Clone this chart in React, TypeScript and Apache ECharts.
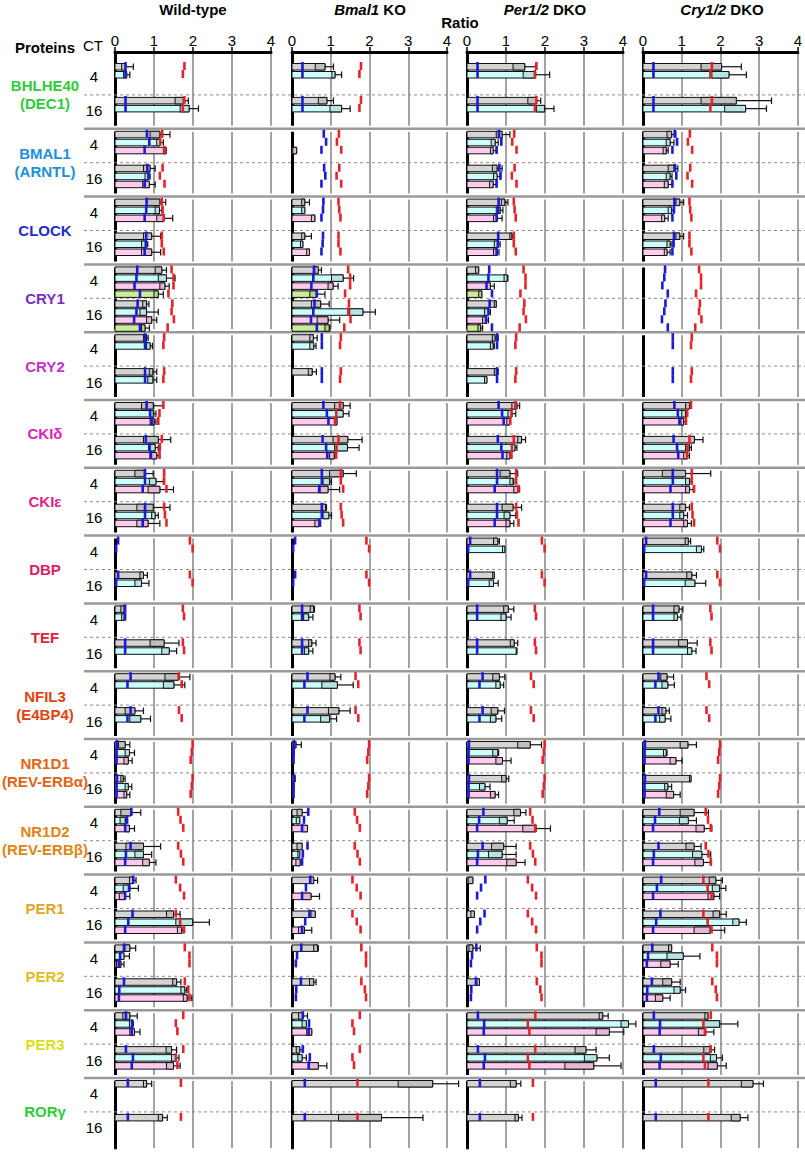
import React, { useEffect, useRef } from 'react';
import * as echarts from 'echarts';

// ---------- DATA ----------
const proteins = ['BHLHE40\n(DEC1)', 'BMAL1\n(ARNTL)', 'CLOCK', 'CRY1', 'CRY2', 'CKIδ', 'CKIε', 'DBP', 'TEF', 'NFIL3\n(E4BP4)', 'NR1D1\n(REV-ERBα)', 'NR1D2\n(REV-ERBβ)', 'PER1', 'PER2', 'PER3', 'RORγ'];
const proteinColors = ['#2fcc3a', '#2190dc', '#1f2ccc', '#7630c4', '#c233c8', '#de22b8', '#e0228c', '#e01a6a', '#e0223e', '#e04214', '#e06414', '#e08414', '#e0a624', '#e0c020', '#dede14', '#2ccc3c'];
const ctLabels = ['4', '16'];
const genotypeTitles = ['Wild-type', '{i|Bmal1} KO', '{i|Per1/2} DKO', '{i|Cry1/2} DKO'];
const tickValues = [0, 1, 2, 3, 4];
// slot colour index per protein: 0 grey, 1 cyan, 2 pink, 3 green
const proteinSlots = [[0, 1], [0, 1, 2], [0, 1, 2], [0, 1, 2, 3], [0, 1], [0, 1, 2], [0, 1, 2], [0, 1], [0, 1], [0, 1], [0, 1, 2], [0, 1, 2], [0, 1, 2], [0, 1, 2], [0, 1, 2], [0]];

const blueMarkers = [
  [[0.27, 0.27], [0.27, 0.27]],
  [[0.82, 0.88, 0.76], [0.83, 0.86, 0.76]],
  [[0.81, 0.8, 0.76], [0.8, 0.79, 0.76]],
  [[0.57, 0.55, 0.5, 0.64], [0.58, 0.55, 0.49, 0.64]],
  [[0.77, 0.77], [0.77, 0.77]],
  [[0.81, 0.9, 0.94], [0.79, 0.88, 0.91]],
  [[0.77, 0.77, 0.71], [0.77, 0.77, 0.71]],
  [[0.08, 0.03], [0.08, 0.03]],
  [[0.26, 0.26], [0.26, 0.26]],
  [[0.4, 0.32], [0.4, 0.32]],
  [[0.05, 0.04, 0.04], [0.05, 0.04, 0.04]],
  [[0.42, 0.31, 0.26], [0.4, 0.28, 0.26]],
  [[0.47, 0.36, 0.26], [0.45, 0.34, 0.26]],
  [[0.24, 0.13, 0.1], [0.23, 0.11, 0.1]],
  [[0.28, 0.44, 0.43], [0.28, 0.46, 0.43]],
  [[0.33], [0.33]],
];
const redMarkers = [
  [[1.78, 1.74], [1.78, 1.74]],
  [[1.21, 1.16, 1.27], [1.22, 1.15, 1.27]],
  [[1.2, 1.22, 1.25], [1.2, 1.2, 1.25]],
  [[1.45, 1.5, 1.5, 1.37], [1.47, 1.45, 1.51, 1.35]],
  [[1.26, 1.24], [1.26, 1.24]],
  [[1.24, 1.14, 1.11], [1.2, 1.15, 1.14]],
  [[1.26, 1.26, 1.32], [1.26, 1.28, 1.32]],
  [[1.92, 1.99], [1.92, 1.99]],
  [[1.74, 1.77], [1.74, 1.77]],
  [[1.64, 1.71], [1.64, 1.71]],
  [[1.99, 1.97, 1.94], [1.99, 1.97, 1.94]],
  [[1.62, 1.68, 1.75], [1.62, 1.69, 1.75]],
  [[1.56, 1.67, 1.77], [1.56, 1.67, 1.77]],
  [[1.79, 1.91, 1.91], [1.79, 1.88, 1.91]],
  [[1.75, 1.56, 1.6], [1.75, 1.56, 1.6]],
  [[1.69], [1.69]],
];

const N = null;
// each bar: [inner box start, bar end, whisker end]
const wildType = [
  [[[0.17, 0.27, 0.47], [0.22, 0.3, 0.38]], [[1.54, 1.75, 1.88], [1.67, 1.9, 2.14]]],
  [[[0.9, 1.15, 1.41], [1.07, 1.15, 1.24], [1.24, 1.31, 1.31]], [[0.73, 0.9, 1.03], [0.77, 0.85, 0.9], [0.71, 0.88, 1.03]]],
  [[[0.81, 1.15, 1.3], [1.03, 1.14, 1.2], [1.07, 1.24, 1.48]], [[0.73, 0.94, 1.17], [0.68, 0.8, 0.84], [0.68, 0.94, 1.17]]],
  [[[1.03, 1.2, 1.32], [1.11, 1.32, 1.54], [1.15, 1.28, 1.39], [1.0, 1.11, 1.24]], [[0.71, 0.81, 0.87], [0.64, 0.81, 1.11], [0.81, 0.94, 1.07], [0.68, 0.77, 0.88]]],
  [[[0.73, 0.81, 0.85], [0.81, 0.9, 0.96]], [[0.88, 0.97, 1.07], [0.84, 0.97, 1.07]]],
  [[[0.68, 0.98, 1.24], [0.9, 0.98, 1.05], [0.9, 1.0, 1.05]], [[0.73, 1.11, 1.43], [0.9, 1.03, 1.11], [0.94, 1.07, 1.15]]],
  [[[0.51, 0.75, 0.98], [0.88, 1.05, 1.24], [0.85, 1.15, 1.5]], [[0.56, 0.98, 1.41], [0.94, 1.03, 1.11], [0.56, 0.85, 1.15]]],
  [[N, N], [[0.64, 0.73, 0.83], [0.51, 0.68, 0.87]]],
  [[[0.15, 0.23, 0.26], [0.17, 0.23, 0.26]], [[0.9, 1.26, 1.64], [1.2, 1.39, 1.58]]],
  [[[1.28, 1.62, 1.92], [1.24, 1.51, 1.79]], [[0.26, 0.51, 0.73], [0.38, 0.66, 0.91]]],
  [[[0.09, 0.26, 0.38], [0.26, 0.37, 0.5], [0.23, 0.34, 0.44]], [[0.15, 0.21, 0.26], [0.26, 0.34, 0.43], [0.23, 0.3, 0.38]]],
  [[[0.15, 0.41, 0.66], [0.13, 0.26, 0.3], [0.26, 0.37, 0.5]], [[0.28, 0.73, 1.17], [0.51, 0.73, 0.94], [0.71, 0.88, 1.05]]],
  [[[0.37, 0.47, 0.54], [0.21, 0.38, 0.6], [0.11, 0.26, 0.38]], [[1.32, 1.5, 1.67], [1.56, 1.99, 2.42], [1.6, 1.71, 1.75]]],
  [[[0.21, 0.38, 0.53], [0.13, 0.23, 0.37], [0.04, 0.15, 0.23]], [[1.48, 1.58, 1.69], [1.69, 1.79, 1.84], [1.75, 1.85, 1.97]]],
  [[[0.2, 0.38, 0.57], [0.37, 0.44, 0.47], [0.38, 0.5, 0.64]], [[1.31, 1.45, 1.58], [1.45, 1.56, 1.64], [1.32, 1.5, 1.67]]],
  [[[0.73, 0.81, 0.94]], [[1.11, 1.22, 1.34]]],
];
const bmal1KO = [
  [[[0.6, 0.85, 1.07], [1.03, 1.11, 1.28]], [[0.68, 0.9, 1.07], [0.98, 1.28, 1.5]]],
  [[N, N, [0.02, 0.12, 0.12]], [N, N, N]],
  [[[0.25, 0.33, 0.45], [0.25, 0.33, 0.33], [0.5, 0.59, 0.59]], [[0.25, 0.33, 0.5], [0.22, 0.28, 0.28], [0.38, 0.45, 0.45]]],
  [[[0.55, 0.68, 0.76], [1.02, 1.32, 1.59], [0.93, 1.06, 1.19], [0.46, 0.63, 0.85]], [[0.5, 0.74, 0.96], [1.49, 1.83, 2.15], [0.65, 0.93, 1.23], [0.85, 0.96, 0.98]]],
  [[[0.46, 0.55, 0.65], [0.46, 0.56, 0.62]], [[0.42, 0.52, 0.63], N]],
  [[[1.1, 1.32, 1.5], [1.15, 1.32, 1.47], [1.1, 1.16, 1.16]], [[1.06, 1.44, 1.81], [1.1, 1.43, 1.73], [0.97, 1.09, 1.09]]],
  [[[0.97, 1.32, 1.66], [0.8, 0.97, 1.02], [0.68, 0.93, 1.23]], [[0.76, 0.87, 0.89], [0.8, 0.95, 1.02], [0.59, 0.7, 0.74]]],
  [[N, N], [N, N]],
  [[[0.47, 0.56, 0.58], [0.3, 0.43, 0.54]], [[0.43, 0.51, 0.62], [0.32, 0.43, 0.54]]],
  [[[0.98, 1.11, 1.26], [0.77, 1.17, 1.58]], [[0.94, 1.21, 1.5], [0.74, 0.97, 1.15]]],
  [[[0.03, 0.1, 0.24], [0.02, 0.06, 0.06], N], [[0.03, 0.08, 0.08], [0.02, 0.05, 0.05], N]],
  [[[0.13, 0.26, 0.4], [0.11, 0.2, 0.2], [0.26, 0.4, 0.4]], [[0.13, 0.26, 0.26], [0.15, 0.2, 0.2], [0.1, 0.21, 0.21]]],
  [[[0.47, 0.56, 0.66], N, [0.26, 0.49, 0.71]], [[0.49, 0.6, 0.6], N, [0.17, 0.32, 0.51]]],
  [[[0.56, 0.66, 0.68], N, N], [[0.45, 0.56, 0.62], N, N]],
  [[[0.17, 0.28, 0.4], [0.26, 0.37, 0.37], [0.38, 0.51, 0.51]], [[0.11, 0.2, 0.27], [0.15, 0.26, 0.37], [0.45, 0.68, 0.9]]],
  [[[2.74, 3.63, 4.3]], [[1.2, 2.31, 3.38]]],
];
const per12DKO = [
  [[[1.18, 1.48, 1.76], [1.44, 1.76, 2.12]], [[1.56, 1.78, 1.89], [1.78, 1.99, 2.23]]],
  [[[0.75, 0.9, 1.1], [0.62, 0.72, 0.8], [0.6, 0.67, 0.75]], [[0.65, 0.77, 0.9], [0.68, 0.77, 0.85], [0.58, 0.67, 0.75]]],
  [[[0.88, 0.97, 1.05], [0.75, 0.85, 0.92], [0.68, 0.77, 0.9]], [[1.1, 1.15, 1.18], [0.7, 0.8, 0.85], [0.68, 0.77, 0.82]]],
  [[[0.22, 0.3, 0.3], [0.95, 1.03, 1.05], [0.5, 0.6, 0.7], [0.3, 0.38, 0.38]], [[0.7, 0.75, 0.75], [0.45, 0.55, 0.6], [0.4, 0.5, 0.55], [0.28, 0.35, 0.4]]],
  [[[0.65, 0.72, 0.8], [0.6, 0.67, 0.7]], [[0.7, 0.77, 0.8], [0.45, 0.51, 0.51]]],
  [[[1.15, 1.28, 1.35], [1.05, 1.15, 1.25], [1.02, 1.1, 1.1]], [[1.3, 1.4, 1.5], [1.15, 1.23, 1.28], [1.02, 1.1, 1.14]]],
  [[[0.85, 1.1, 1.3], [1.1, 1.18, 1.2], [1.2, 1.3, 1.35]], [[0.9, 1.18, 1.4], [0.95, 1.1, 1.25], [1.0, 1.1, 1.2]]],
  [[[0.68, 0.79, 0.83], [0.91, 0.97, 0.97]], [[0.66, 0.7, 0.7], [0.57, 0.68, 0.8]]],
  [[[0.94, 1.06, 1.2], [0.87, 1.0, 1.13]], [[1.11, 1.21, 1.3], [1.26, 1.28, 1.28]]],
  [[[0.66, 0.83, 0.97], [0.74, 0.85, 0.94]], [[0.62, 0.79, 0.96], [0.6, 0.74, 0.89]]],
  [[[1.3, 1.62, 1.91], [0.66, 0.79, 0.81], [0.74, 0.91, 1.13]], [[0.89, 1.0, 1.07], [0.32, 0.46, 0.59], [0.6, 0.72, 0.81]]],
  [[[1.2, 1.37, 1.51], [0.83, 1.03, 1.21], [1.43, 1.77, 2.14]], [[0.63, 0.94, 1.26], [0.55, 0.9, 1.26], [1.02, 1.26, 1.49]]],
  [[[0.03, 0.15, 0.15], N, N], [[0.1, 0.19, 0.19], N, N]],
  [[[0.05, 0.15, 0.34], N, N], [[0.25, 0.32, 0.32], N, N]],
  [[[3.39, 3.48, 3.62], [3.95, 4.14, 4.33], [3.31, 3.65, 4.02]], [[2.77, 3.05, 3.31], [3.01, 3.33, 3.65], [2.51, 3.25, 3.95]]],
  [[[1.11, 1.26, 1.38]], [[1.23, 1.32, 1.41]]],
];
const cry12DKO = [
  [[[1.5, 2.03, 2.54], [1.78, 2.22, 2.67]], [[1.5, 2.41, 3.32], [2.11, 2.65, 3.19]]],
  [[[0.62, 0.74, 0.85], [0.6, 0.7, 0.8], [0.52, 0.6, 0.65]], [[0.65, 0.8, 0.9], [0.6, 0.7, 0.75], [0.55, 0.65, 0.75]]],
  [[[0.85, 0.95, 1.05], [0.65, 0.74, 0.8], [0.48, 0.56, 0.65]], [[0.85, 0.95, 1.05], [0.62, 0.7, 0.75], [0.55, 0.62, 0.7]]],
  [[N, N, N, N], [N, N, N, N]],
  [[N, N], [N, N]],
  [[[1.1, 1.2, 1.25], [1.0, 1.1, 1.15], [0.98, 1.05, 1.1]], [[1.2, 1.33, 1.55], [1.1, 1.2, 1.25], [1.05, 1.15, 1.2]]],
  [[[0.5, 1.1, 1.75], [1.1, 1.2, 1.25], [1.1, 1.2, 1.3]], [[0.95, 1.1, 1.2], [0.95, 1.05, 1.15], [1.05, 1.15, 1.25]]],
  [[[1.09, 1.17, 1.23], [1.38, 1.51, 1.57]], [[1.13, 1.26, 1.38], [1.09, 1.34, 1.62]]],
  [[[0.8, 0.93, 1.03], [0.8, 0.89, 0.98]], [[0.92, 1.15, 1.4], [1.15, 1.26, 1.37]]],
  [[[0.46, 0.62, 0.79], [0.49, 0.64, 0.81]], [[0.49, 0.59, 0.68], [0.43, 0.57, 0.72]]],
  [[[0.96, 1.16, 1.38], [0.53, 0.6, 0.62], [0.7, 0.85, 1.01]], [[1.2, 1.24, 1.24], [0.56, 0.64, 0.74], [0.6, 0.79, 0.96]]],
  [[[0.96, 1.32, 1.69], [0.94, 1.17, 1.38], [1.37, 1.58, 1.78]], [[1.11, 1.32, 1.5], [1.28, 1.52, 1.75], [1.34, 1.56, 1.77]]],
  [[[1.71, 1.88, 2.05], [1.79, 1.98, 2.14], [1.68, 1.83, 1.98]], [[1.81, 1.98, 2.15], [2.32, 2.48, 2.67], [1.32, 1.73, 2.11]]],
  [[[0.66, 0.74, 0.74], [0.62, 1.04, 1.47], [0.46, 0.7, 0.91]], [[0.51, 0.74, 0.96], [0.8, 0.96, 1.1], [0.32, 0.51, 0.7]]],
  [[[1.6, 1.68, 1.68], [1.56, 1.98, 2.45], [1.43, 1.62, 1.83]], [[1.57, 1.73, 1.85], [1.74, 1.9, 2.05], [1.68, 1.92, 2.15]]],
  [[[2.54, 2.84, 3.11]], [[2.28, 2.51, 2.71]]],
];
const genotypes = [wildType, bmal1KO, per12DKO, cry12DKO];

// ---------- STYLE / LAYOUT ----------
const FONT = '"Liberation Sans", Arial, Helvetica, sans-serif';
const fills = ['#d4d4d4', '#ccffff', '#ffccf0', '#cdeb9a'];
const boxFills = ['#c0c0c0', '#b4e4e4', '#e6b8d8', '#b6d68a'];
const BLUE = '#1a1ad8';
const RED = '#e4242a';
const GRID_TOP = 52;
const GRID_H = 1096;
const YMAX = 32.33;
const HALF_PX = GRID_H / YMAX;
const OFF = 9 / HALF_PX;
const SLOT = 8 / HALF_PX;
const SLOT_PAD = 2.5 / HALF_PX;
const BAR_H = 6.5 / HALF_PX;
const gridLefts = [115, 292, 467, 643];
const gridWidths = [156, 155, 156, 155];
const titleCenters = [193, 370, 545, 722];

function buildBarData(geno: any[]) {
  const out: number[][] = [];
  geno.forEach((pd, p) => {
    [0, 1].forEach((ct) => {
      proteinSlots[p].forEach((ci, s) => {
        const b = pd[ct][s];
        out.push([p, ct, s, b ? b[0] : -1, b ? b[1] : -1, b ? b[2] : -1, blueMarkers[p][ct][s], redMarkers[p][ct][s], ci]);
      });
    });
  });
  return out;
}

const renderBars = (params: any, api: any) => {
  const p = api.value(0), ct = api.value(1), s = api.value(2);
  const inner = api.value(3), end = api.value(4), wh = api.value(5);
  const blue = api.value(6), red = api.value(7), ci = api.value(8);
  const slotTop = OFF + 2 * p + ct + s * SLOT;
  const yT = api.coord([0, slotTop + SLOT_PAD])[1];
  const yB = api.coord([0, slotTop + SLOT_PAD + BAR_H])[1];
  const mT = api.coord([0, slotTop + SLOT_PAD * 0.4])[1];
  const mB = api.coord([0, slotTop + SLOT_PAD * 0.4 + SLOT])[1];
  const yM = (yT + yB) / 2;
  const X = (v: number) => api.coord([v, slotTop])[0];
  const x0 = X(0);
  const children: any[] = [];
  if (end >= 0) {
    children.push({ type: 'rect', shape: { x: x0, y: yT, width: X(end) - x0, height: yB - yT }, style: { fill: fills[ci], stroke: '#111', lineWidth: 1 } });
    if (inner >= 0 && inner < end) {
      children.push({ type: 'rect', shape: { x: X(inner), y: yT, width: X(end) - X(inner), height: yB - yT }, style: { fill: boxFills[ci], stroke: '#111', lineWidth: 1 } });
    }
    if (wh > end) {
      children.push({ type: 'line', shape: { x1: X(end), y1: yM, x2: X(wh), y2: yM }, style: { stroke: '#111', lineWidth: 1.2 } });
      children.push({ type: 'line', shape: { x1: X(wh), y1: yT, x2: X(wh), y2: yB }, style: { stroke: '#111', lineWidth: 1.2 } });
    }
  }
  children.push({ type: 'line', shape: { x1: X(blue), y1: mT, x2: X(blue), y2: mB }, style: { stroke: BLUE, lineWidth: 2.6 } });
  children.push({ type: 'line', shape: { x1: X(red), y1: mT, x2: X(red), y2: mB }, style: { stroke: RED, lineWidth: 2.6 } });
  return { type: 'group', children };
};

const renderSeparators = (params: any, api: any) => {
  const y = api.value(0), kind = api.value(1);
  const a = api.coord([0, y]);
  const b = api.coord([1, y]);
  if (kind === 0) {
    return {
      type: 'group', children: [
        { type: 'rect', shape: { x: a[0], y: a[1] - 3, width: b[0] - a[0], height: 6 }, style: { fill: '#fff' } },
        { type: 'line', shape: { x1: a[0], y1: a[1], x2: b[0], y2: b[1] }, style: { stroke: '#9a9a9a', lineWidth: 2.5 } },
      ],
    };
  }
  return { type: 'line', shape: { x1: a[0], y1: a[1], x2: b[0], y2: b[1] }, style: { stroke: '#8a8a8a', lineWidth: 1, lineDash: [3, 3] } };
};

const renderLabels = (params: any, api: any) => {
  const p = api.value(0);
  const yc = api.coord([0, OFF + 2 * p + 1])[1];
  const y4 = api.coord([0, OFF + 2 * p + 0.5])[1] - 1;
  const y16 = api.coord([0, OFF + 2 * p + 1.5])[1] - 1;
  const xName = api.coord([45, 0])[0];
  const xCt = api.coord([94, 0])[0];
  return {
    type: 'group', children: [
      { type: 'text', x: xName, y: yc, style: { text: proteins[p], fill: proteinColors[p], font: `bold 15px ${FONT}`, align: 'center', verticalAlign: 'middle', lineHeight: 18 } },
      { type: 'text', x: xCt, y: y4, style: { text: ctLabels[0], fill: '#000', font: `15px ${FONT}`, align: 'center', verticalAlign: 'middle' } },
      { type: 'text', x: xCt, y: y16, style: { text: ctLabels[1], fill: '#000', font: `15px ${FONT}`, align: 'center', verticalAlign: 'middle' } },
    ],
  };
};

function buildOption() {
  const grids: any[] = [];
  const xAxes: any[] = [];
  const yAxes: any[] = [];
  const series: any[] = [];
  genotypes.forEach((geno, g) => {
    grids.push({ left: gridLefts[g], width: gridWidths[g], top: GRID_TOP, height: GRID_H });
    xAxes.push({
      type: 'value', gridIndex: g, min: 0, max: 4, interval: 1, position: 'top',
      axisLine: { show: true, lineStyle: { color: '#000', width: 3 } },
      axisTick: { show: true, inside: false, length: 5, lineStyle: { color: '#000', width: 1.5 } },
      axisLabel: { show: true, fontSize: 15, color: '#000', margin: 4, fontFamily: FONT, formatter: (v: number) => (tickValues.includes(v) ? String(v) : '') },
      splitLine: { show: true, lineStyle: { color: '#a3a3a3', width: 2 } },
    });
    yAxes.push({
      type: 'value', gridIndex: g, min: 0, max: YMAX, inverse: true,
      axisLine: { show: true, onZero: false, lineStyle: { color: '#000', width: 3 } },
      axisTick: { show: false }, axisLabel: { show: false }, splitLine: { show: false },
    });
    series.push({
      type: 'custom', xAxisIndex: g, yAxisIndex: g, renderItem: renderBars, data: buildBarData(geno), z: 5, clip: false,
      encode: { x: 4, y: 0 },
    });
  });
  // background grid for separators
  grids.push({ left: 84, width: 721, top: GRID_TOP, height: GRID_H });
  xAxes.push({ type: 'value', gridIndex: 4, min: 0, max: 1, show: false });
  yAxes.push({ type: 'value', gridIndex: 4, min: 0, max: YMAX, inverse: true, show: false });
  const sepData: number[][] = [];
  proteins.forEach((_, p) => {
    if (p > 0) sepData.push([OFF + 2 * p, 0]);
    sepData.push([OFF + 2 * p + 1, 1]);
  });
  series.push({ type: 'custom', xAxisIndex: 4, yAxisIndex: 4, renderItem: renderSeparators, data: sepData, z: 3, clip: false, encode: { x: 1, y: 0 } });
  // label grid
  grids.push({ left: 0, width: 110, top: GRID_TOP, height: GRID_H });
  xAxes.push({ type: 'value', gridIndex: 5, min: 0, max: 110, show: false });
  yAxes.push({ type: 'value', gridIndex: 5, min: 0, max: YMAX, inverse: true, show: false });
  series.push({ type: 'custom', xAxisIndex: 5, yAxisIndex: 5, renderItem: renderLabels, data: proteins.map((_, p) => [p, 0]), z: 4, clip: false, encode: { x: 1, y: 0 } });

  const richI = { i: { fontStyle: 'italic', fontWeight: 'bold', fontSize: 15, fontFamily: FONT, color: '#000' } };
  const titles: any[] = genotypeTitles.map((t, g) => ({
    text: t, left: titleCenters[g], top: 2, textAlign: 'center', padding: 0,
    textStyle: { fontSize: 15, fontWeight: 'bold', fontFamily: FONT, color: '#000', rich: richI },
  }));
  titles.push({ text: 'Ratio', left: 460, top: 15, textAlign: 'center', padding: 0, textStyle: { fontSize: 15, fontWeight: 'bold', fontFamily: FONT, color: '#000' } });
  titles.push({ text: 'Proteins', left: 45, top: 40, textAlign: 'center', padding: 0, textStyle: { fontSize: 15, fontWeight: 'bold', fontFamily: FONT, color: '#000' } });
  titles.push({ text: 'CT', left: 93, top: 38, textAlign: 'center', padding: 0, textStyle: { fontSize: 15, fontWeight: 'normal', fontFamily: FONT, color: '#000' } });

  return {
    animation: false,
    backgroundColor: '#fff',
    textStyle: { fontFamily: FONT },
    title: titles,
    grid: grids,
    xAxis: xAxes,
    yAxis: yAxes,
    series,
  };
}

export default function App() {
  const ref = useRef<HTMLDivElement>(null);
  useEffect(() => {
    if (!ref.current) return;
    const chart = echarts.init(ref.current, null, { renderer: 'svg' });
    chart.setOption(buildOption() as any);
    return () => chart.dispose();
  }, []);
  return <div ref={ref} style={{ position: 'absolute', left: 0, top: 0, width: 805, height: 1155 }} />;
}
